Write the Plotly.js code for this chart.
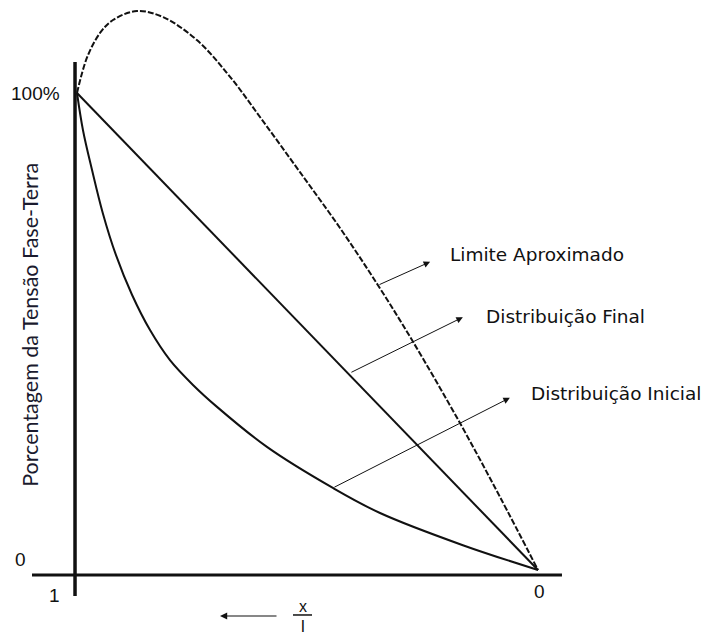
<!DOCTYPE html>
<html>
<head>
<meta charset="utf-8">
<script src="https://cdn.plot.ly/plotly-3.0.1.min.js"></script>
<style>
  html, body { margin: 0; padding: 0; background: #fff; }
  #chart { width: 714px; height: 637px; }
</style>
</head>
<body>
<div id="chart"></div>
<script>
// Position along the winding, x/l (1 at the line terminal, 0 at the neutral end)
const xInicial = [1.0, 0.987, 0.9675, 0.944, 0.9154, 0.8807, 0.8416, 0.7983, 0.7484, 0.6963, 0.588, 0.445, 0.3427, 0.163, 0.0];
// Initial voltage distribution (% of phase-to-earth voltage)
const yInicial = [100, 92.2, 83.9, 74.8, 66.0, 57.7, 50.3, 44.0, 38.8, 34.2, 25.8, 17.2, 11.95, 5.2, 0];

// Final (uniform) distribution
const xFinal = [1.0, 0.0];
const yFinal = [100, 0];

// Approximate envelope of the oscillation
const xLimite = [1.0, 0.978, 0.950, 0.922, 0.870, 0.813, 0.740, 0.668, 0.5965, 0.5163, 0.4295, 0.3471, 0.2733, 0.1692, 0.0824, 0.0];
const yLimite = [100, 107.5, 112.6, 115.3, 117.2, 115.9, 111.1, 103.4, 94.1, 83.4, 71.7, 59.7, 48.2, 30.8, 15.3, 0];

// Curve labels and pointer arrows
const curveLabels = ['Limite Aproximado', 'Distribuição Final', 'Distribuição Inicial'];
const labelX = [0.195, 0.117, 0.0195];
const labelY = [66.2, 53.2, 37.1];
const tailX = [0.3471, 0.408, 0.445];
const tailY = [59.7, 41.3, 17.2];
const headX = [0.234, 0.163, 0.061];
const headY = [64.6, 53.0, 36.1];

const yTitle = 'Porcentagem da Tensão Fase-Terra';

const ink = '#111';

const traces = [
  { x: xLimite, y: yLimite, mode: 'lines', line: { color: ink, width: 2, dash: '6px,2px', shape: 'spline', smoothing: 1 }, hoverinfo: 'skip' },
  { x: xFinal, y: yFinal, mode: 'lines', line: { color: ink, width: 2 }, hoverinfo: 'skip' },
  { x: xInicial, y: yInicial, mode: 'lines', line: { color: ink, width: 2, shape: 'spline', smoothing: 1 }, hoverinfo: 'skip' }
];

const labelFont = { family: 'DejaVu Sans', size: 18.5, color: ink };
const tickFont = { family: 'Liberation Sans, Arial', size: 19, color: ink };

const annotations = [];
curveLabels.forEach((t, i) => {
  annotations.push({ x: labelX[i], y: labelY[i], xref: 'x', yref: 'y', text: t, showarrow: false,
    xanchor: 'left', yanchor: 'middle', font: labelFont });
  annotations.push({ x: headX[i], y: headY[i], ax: tailX[i], ay: tailY[i], xref: 'x', yref: 'y',
    axref: 'x', ayref: 'y', text: '', showarrow: true, arrowhead: 2, arrowsize: 1.3, arrowwidth: 1, arrowcolor: ink });
});

// axis end labels and the x/l direction marker
annotations.push(
  { x: 1.0325, y: 100, xref: 'x', yref: 'y', text: '100%', showarrow: false, xanchor: 'right', yanchor: 'middle', font: tickFont },
  { x: 1.1215, y: 2.1, xref: 'x', yref: 'y', text: '0', showarrow: false, xanchor: 'center', yanchor: 'middle', font: tickFont },
  { x: 1.0499, y: -5.24, xref: 'x', yref: 'y', text: '1', showarrow: false, xanchor: 'center', yanchor: 'middle', font: tickFont },
  { x: -0.0022, y: -4.61, xref: 'x', yref: 'y', text: '0', showarrow: false, xanchor: 'center', yanchor: 'middle', font: tickFont },
  { x: 0.5098, y: -7.55, xref: 'x', yref: 'y', text: 'x', showarrow: false, xanchor: 'center', yanchor: 'middle', font: { family: 'Liberation Sans, Arial', size: 16, color: ink } },
  { x: 0.5098, y: -11.9, xref: 'x', yref: 'y', text: 'l', showarrow: false, xanchor: 'center', yanchor: 'middle', font: { family: 'Liberation Sans, Arial', size: 17, color: ink } },
  { x: 0.6898, y: -9.64, ax: 0.564, ay: -9.64, xref: 'x', yref: 'y', axref: 'x', ayref: 'y', text: '', showarrow: true,
    arrowhead: 2, arrowsize: 1.2, arrowwidth: 1.2, arrowcolor: ink },
  { x: 1.102, y: 51.4, xref: 'x', yref: 'y', text: yTitle, showarrow: false, textangle: -90, xanchor: 'center', yanchor: 'middle',
    font: { family: 'Lato', size: 21.5, color: '#1a1a2e' } }
);

const shapes = [
  // vertical axis
  { type: 'line', xref: 'x', yref: 'y', x0: 1.0043, x1: 1.0043, y0: 106.5, y1: -5.45, line: { color: ink, width: 3.5 } },
  // horizontal axis
  { type: 'line', xref: 'x', yref: 'y', x0: 1.0976, x1: -0.052, y0: -1.05, y1: -1.05, line: { color: ink, width: 3 } },
  // fraction bar of x/l
  { type: 'line', xref: 'x', yref: 'y', x0: 0.5315, x1: 0.4902, y0: -9.43, y1: -9.43, line: { color: ink, width: 1.5 } }
];

const layout = {
  width: 714, height: 637,
  margin: { l: 0, r: 0, t: 0, b: 0 },
  paper_bgcolor: '#fff', plot_bgcolor: '#fff',
  showlegend: false,
  xaxis: { range: [1.16703, -0.38178], visible: false, fixedrange: true },
  yaxis: { range: [-14.046, 119.5], visible: false, fixedrange: true },
  annotations: annotations,
  shapes: shapes
};

Plotly.newPlot('chart', traces, layout, { displayModeBar: false, staticPlot: true });
</script>
</body>
</html>
